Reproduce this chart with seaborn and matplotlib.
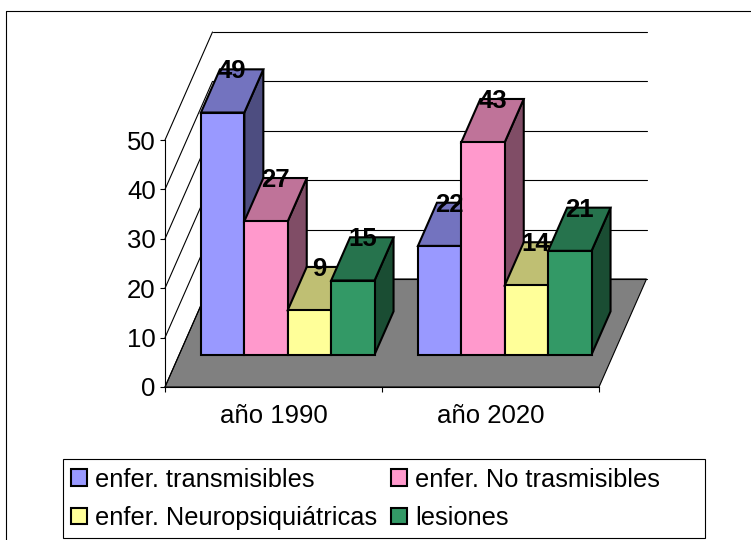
import matplotlib
matplotlib.use("Agg")
import matplotlib.pyplot as plt
from matplotlib.colors import to_rgb
from matplotlib.lines import Line2D
from matplotlib.patches import Polygon, Rectangle
import pandas as pd
import seaborn as sns

years = ["año 1990", "año 2020"]
causes = ["enfer. transmisibles", "enfer. No trasmisibles",
          "enfer. Neuropsiquiátricas", "lesiones"]
transmisibles = [49, 22]
no_transmisibles = [27, 43]
neuropsiquiatricas = [9, 14]
lesiones = [15, 21]
colors = ["#9999FF", "#FF99CC", "#FFFF99", "#339966"]

W, H = 751, 540
sns.set_theme(style="white")
plt.rcParams["font.family"] = ["Liberation Sans", "DejaVu Sans"]

df = pd.DataFrame({
    "year": years * 4,
    "cause": [c for c in causes for _ in years],
    "value": transmisibles + no_transmisibles + neuropsiquiatricas + lesiones,
})

fig = plt.figure(figsize=(W / 100, H / 100), dpi=100, facecolor="white")
ax = fig.add_axes([165 / W, 1 - 387 / H, 434 / W, 247 / H])
ax.patch.set_visible(False)

sns.barplot(data=df, x="year", y="value", hue="cause", order=years,
            hue_order=causes, palette=colors, width=0.8, gap=0,
            edgecolor="black", linewidth=1.5, saturation=1, ax=ax)
ax.set_xlim(-0.5, 1.5)
ax.set_ylim(0, 50)
ax.set_xlabel("")
ax.set_ylabel("")

# Oblique projection: the depth of the box expressed in data units
depth_x = 47.5 / 217.0
depth_y = 108 / 4.94
bar_start, bar_end = 0.30, 0.70
line = dict(color="black", lw=0.8, clip_on=False, zorder=1)

# Floor and wall grid
x0, x1 = ax.get_xlim()
ax.add_patch(Polygon([(x0, 0), (x1, 0), (x1 + depth_x, depth_y), (x0 + depth_x, depth_y)],
                     facecolor="#808080", edgecolor="black", lw=0.8, clip_on=False, zorder=0.5))
for tick in range(0, 51, 10):
    ax.plot([x0, x0 + depth_x], [tick, tick + depth_y], **line)
    ax.plot([x0 + depth_x, x1 + depth_x], [tick + depth_y] * 2, **line)

# Bars: shift the fronts back, then add side and top faces
bars = []
for container, color in zip(ax.containers, colors):
    for bar in container:
        bars.append((bar, color))
bars.sort(key=lambda item: item[0].get_x())

edge = dict(edgecolor="black", lw=1.5, clip_on=False, joinstyle="miter")
order = 2
for bar, color in bars:
    rgb = to_rgb(color)
    left = bar.get_x() + bar_start * depth_x
    base = bar_start * depth_y
    width = bar.get_width()
    value = bar.get_height()
    right = left + width
    top = base + value
    dx = (bar_end - bar_start) * depth_x
    dy = (bar_end - bar_start) * depth_y
    ax.add_patch(Polygon([(right, base), (right + dx, base + dy),
                          (right + dx, top + dy), (right, top)],
                         facecolor=[c * 0.5 for c in rgb], zorder=order, **edge))
    ax.add_patch(Polygon([(left, top), (right, top), (right + dx, top + dy), (left + dx, top + dy)],
                         facecolor=[c * 0.75 for c in rgb], zorder=order + 0.1, **edge))
    bar.set_x(left)
    bar.set_y(base)
    bar.set_clip_on(False)
    bar.set_zorder(order + 0.2)
    bar.set_joinstyle("miter")
    order += 1

for bar, color in bars:
    value = bar.get_height()
    ax.annotate(f"{value:.0f}",
                xy=(bar.get_x() + bar.get_width() / 2 + 0.5 * (bar_end - bar_start) * depth_x,
                    bar.get_y() + value + (bar_end - bar_start) * depth_y),
                xytext=(0, -1.5), textcoords="offset points",
                ha="center", va="center", fontsize=18.5, fontweight="bold",
                color="black", zorder=50, annotation_clip=False)

# Axes
for side in ("top", "right"):
    ax.spines[side].set_visible(False)
for side in ("left", "bottom"):
    ax.spines[side].set_color("black")
    ax.spines[side].set_linewidth(0.8)
    ax.spines[side].set_zorder(1.5)
ax.set_yticks(range(0, 51, 10))
ax.tick_params(axis="y", length=3.6, width=0.8, color="black", labelsize=18.5,
               labelcolor="black", pad=3, left=True)
ax.tick_params(axis="x", which="major", length=0, labelsize=18.5, labelcolor="black", pad=12)
ax.set_xticks([x0, 0.5, x1], minor=True)
ax.tick_params(axis="x", which="minor", length=3.6, width=0.8, color="black", bottom=True)

# Legend: two rows read left to right, inside a hand-sized box
handles, labels = ax.get_legend_handles_labels()
ax.get_legend().remove()
by_row = [0, 2, 1, 3]
fig.add_artist(Rectangle((63 / W, 1 - 537.5 / H), 642 / W, 79 / H, transform=fig.transFigure,
                         facecolor="white", edgecolor="black", lw=0.8))
legend = fig.legend([handles[i] for i in by_row], [labels[i] for i in by_row],
                    ncol=2, loc="lower left", bbox_to_anchor=(62 / W, 1 - 539 / H),
                    borderaxespad=0, frameon=False,
                    fontsize=18.3, handlelength=0.62, handleheight=0.62, handletextpad=0.33,
                    columnspacing=0.55, labelspacing=0.57, borderpad=0.35,
                    labelcolor="black")
legend.set_zorder(5)
for patch in legend.get_patches():
    patch.set_linewidth(1.5)

# Chart area frame, running off the canvas at the right and bottom
fig.add_artist(Line2D([6.5 / W, 6.5 / W, 1], [0, 1 - 10.5 / H, 1 - 10.5 / H],
                      color="black", lw=0.8))

fig.savefig("out.png", dpi=100)
